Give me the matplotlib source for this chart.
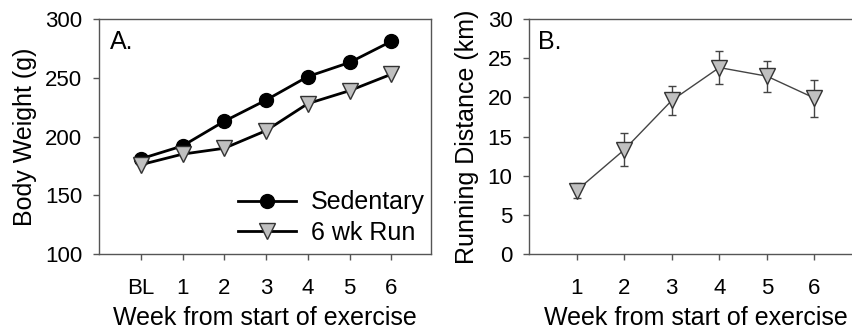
import matplotlib
matplotlib.use('Agg')
import matplotlib.pyplot as plt

plt.rcParams['font.family'] = ['Liberation Sans', 'DejaVu Sans']
plt.rcParams['font.size'] = 18

# Panel A: body weight
weeks_a = ['BL', '1', '2', '3', '4', '5', '6']
sedentary = [181, 192, 213, 231, 251, 263, 281]
run_6wk = [176, 185, 190, 205, 228, 239, 253]

# Panel B: running distance
weeks_b = [1, 2, 3, 4, 5, 6]
distance = [8.1, 13.3, 19.6, 23.8, 22.7, 19.9]
distance_err = [0.95, 2.1, 1.9, 2.1, 2.0, 2.35]

spine_col = '#555555'
tri_fill = '#c0c0c0'

fig = plt.figure(figsize=(8.53, 3.31), dpi=100)

# --- A ---
ax1 = fig.add_axes([0.1161, 0.2326, 0.3892, 0.71])
xa = range(len(weeks_a))
ax1.plot(xa, sedentary, color='black', lw=2, marker='o', ms=10,
         mfc='black', mec='black', label='Sedentary', zorder=3)
ax1.plot(xa, run_6wk, color='black', lw=2, marker='v', ms=11,
         mfc=tri_fill, mec='#333333', mew=1, label='6 wk Run', zorder=3)
ax1.set_xlim(-1, 6.95)
ax1.set_ylim(100, 300)
ax1.set_yticks(range(100, 301, 50))
ax1.set_xticks(list(xa))
ax1.set_xticklabels(weeks_a)
ax1.set_xlabel('Week from start of exercise', labelpad=5)
ax1.set_ylabel('Body Weight (g)', labelpad=6)
ax1.text(0.033, 0.953, 'A.', transform=ax1.transAxes, ha='left', va='top', fontsize=18)
ax1.legend(loc='center left', frameon=False, handlelength=2.3, handletextpad=0.6,
           borderpad=0, borderaxespad=0, labelspacing=0.25,
           bbox_to_anchor=(0.42, 0.155))

# --- B ---
ax2 = fig.add_axes([0.6202, 0.2326, 0.3904, 0.71])
ax2.errorbar(weeks_b, distance, yerr=distance_err, color='#444444', lw=1,
             ecolor='#444444', elinewidth=1, capsize=3, capthick=1,
             marker='v', ms=12, mfc=tri_fill, mec='#333333', mew=1, zorder=3)
ax2.set_xlim(0, 7)
ax2.set_ylim(0, 30)
ax2.set_yticks(range(0, 31, 5))
ax2.set_xticks(weeks_b)
ax2.set_xlabel('Week from start of exercise', labelpad=5)
ax2.set_ylabel('Running Distance (km)', labelpad=6)
ax2.text(0.027, 0.953, 'B.', transform=ax2.transAxes, ha='left', va='top', fontsize=18)

for ax in (ax1, ax2):
    for s in ax.spines.values():
        s.set_color(spine_col)
        s.set_linewidth(1)
    ax.tick_params(direction='out', length=4, width=1, color=spine_col,
                   labelsize=16)
    ax.tick_params(axis='y', pad=8)
    ax.tick_params(axis='x', pad=13)

fig.savefig('out.png', dpi=100)
